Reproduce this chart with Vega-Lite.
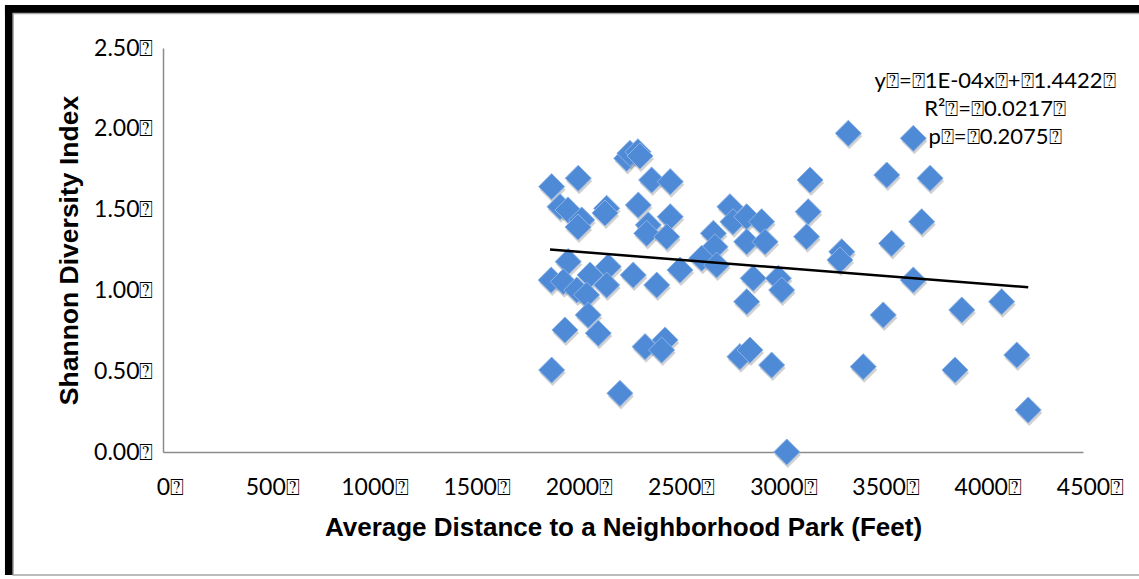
{
  "$schema": "https://vega.github.io/schema/vega-lite/v6.json",
  "autosize": {"type": "none"},
  "width": 920,
  "height": 404,
  "padding": {"left": 163, "top": 48, "right": 56, "bottom": 127},
  "background": "white",
  "config": {"view": {"stroke": null}, "font": "Lato"},
  "datasets": {
    "points": [
      {"distance": 1901, "shannon": 1.642},
      {"distance": 2031, "shannon": 1.694},
      {"distance": 1942, "shannon": 1.518},
      {"distance": 1981, "shannon": 1.498},
      {"distance": 2048, "shannon": 1.436},
      {"distance": 2030, "shannon": 1.392},
      {"distance": 2170, "shannon": 1.508},
      {"distance": 2162, "shannon": 1.479},
      {"distance": 2268, "shannon": 1.817},
      {"distance": 2284, "shannon": 1.848},
      {"distance": 2323, "shannon": 1.858},
      {"distance": 2333, "shannon": 1.832},
      {"distance": 2390, "shannon": 1.683},
      {"distance": 2481, "shannon": 1.673},
      {"distance": 2325, "shannon": 1.528},
      {"distance": 2374, "shannon": 1.405},
      {"distance": 2366, "shannon": 1.353},
      {"distance": 2481, "shannon": 1.456},
      {"distance": 2464, "shannon": 1.332},
      {"distance": 2773, "shannon": 1.518},
      {"distance": 2788, "shannon": 1.425},
      {"distance": 2855, "shannon": 1.456},
      {"distance": 2928, "shannon": 1.425},
      {"distance": 2855, "shannon": 1.301},
      {"distance": 2945, "shannon": 1.301},
      {"distance": 2692, "shannon": 1.353},
      {"distance": 2700, "shannon": 1.270},
      {"distance": 2635, "shannon": 1.199},
      {"distance": 2708, "shannon": 1.157},
      {"distance": 2529, "shannon": 1.126},
      {"distance": 2887, "shannon": 1.075},
      {"distance": 3010, "shannon": 1.075},
      {"distance": 3026, "shannon": 1.002},
      {"distance": 2855, "shannon": 0.930},
      {"distance": 3156, "shannon": 1.487},
      {"distance": 3148, "shannon": 1.332},
      {"distance": 3165, "shannon": 1.683},
      {"distance": 3320, "shannon": 1.239},
      {"distance": 3311, "shannon": 1.188},
      {"distance": 3352, "shannon": 1.972},
      {"distance": 3670, "shannon": 1.941},
      {"distance": 3540, "shannon": 1.714},
      {"distance": 3752, "shannon": 1.694},
      {"distance": 3711, "shannon": 1.425},
      {"distance": 3564, "shannon": 1.291},
      {"distance": 3670, "shannon": 1.064},
      {"distance": 3523, "shannon": 0.848},
      {"distance": 3907, "shannon": 0.879},
      {"distance": 4102, "shannon": 0.930},
      {"distance": 4176, "shannon": 0.600},
      {"distance": 3425, "shannon": 0.528},
      {"distance": 3874, "shannon": 0.507},
      {"distance": 4232, "shannon": 0.260},
      {"distance": 3051, "shannon": 0.0},
      {"distance": 2977, "shannon": 0.538},
      {"distance": 2822, "shannon": 0.590},
      {"distance": 2871, "shannon": 0.631},
      {"distance": 1982, "shannon": 1.178},
      {"distance": 1899, "shannon": 1.064},
      {"distance": 1958, "shannon": 1.054},
      {"distance": 2089, "shannon": 1.095},
      {"distance": 2178, "shannon": 1.147},
      {"distance": 2170, "shannon": 1.033},
      {"distance": 2024, "shannon": 1.002},
      {"distance": 2072, "shannon": 0.972},
      {"distance": 2300, "shannon": 1.095},
      {"distance": 2415, "shannon": 1.033},
      {"distance": 2080, "shannon": 0.848},
      {"distance": 1966, "shannon": 0.755},
      {"distance": 2129, "shannon": 0.735},
      {"distance": 2358, "shannon": 0.652},
      {"distance": 2456, "shannon": 0.693},
      {"distance": 2439, "shannon": 0.631},
      {"distance": 1901, "shannon": 0.507},
      {"distance": 2235, "shannon": 0.363}
    ],
    "trend": [
      {"distance": 1893, "shannon": 1.253},
      {"distance": 4232, "shannon": 1.019}
    ]
  },
  "layer": [
    {
      "data": {"name": "points"},
      "mark": {"type": "point", "shape": "diamond", "filled": true, "size": 680, "color": "#000000", "opacity": 0.18, "xOffset": 1, "yOffset": 3},
      "encoding": {
        "x": {
          "field": "distance", "type": "quantitative",
          "scale": {"domain": [0, 4500], "nice": false, "zero": false},
          "axis": {
            "values": [0, 500, 1000, 1500, 2000, 2500, 3000, 3500, 4000, 4500],
            "labelExpr": "datum.value + '⍰'",
            "title": "Average Distance to a Neighborhood Park (Feet)",
            "grid": false, "ticks": false,
            "domainColor": "#8c8c8c", "domainWidth": 1.5,
            "labelFont": "Lato", "labelFontSize": 23, "labelColor": "#000000",
            "labelPadding": 24, "labelOffset": 7, "labelFlush": false, "labelOverlap": false,
            "titleFont": "Liberation Sans", "titleFontSize": 26, "titleFontWeight": "bold", "titleColor": "#000000",
            "titlePadding": 15
          }
        },
        "y": {
          "field": "shannon", "type": "quantitative",
          "scale": {"domain": [0, 2.5], "nice": false, "zero": false},
          "axis": {
            "values": [0, 0.5, 1, 1.5, 2, 2.5],
            "labelExpr": "format(datum.value, '.2f') + '⍰'",
            "title": "Shannon Diversity Index",
            "grid": false, "ticks": false,
            "domainColor": "#8c8c8c", "domainWidth": 1.5,
            "labelFont": "Lato", "labelFontSize": 23, "labelColor": "#000000",
            "labelPadding": 10, "labelFlush": false, "labelOverlap": false,
            "titleFont": "Liberation Sans", "titleFontSize": 26.5, "titleFontWeight": "bold", "titleColor": "#000000",
            "titlePadding": 10
          }
        }
      }
    },
    {
      "data": {"name": "points"},
      "mark": {"type": "point", "shape": "diamond", "filled": true, "size": 680, "fill": "#4f8ad6", "stroke": "#8db3e6", "strokeWidth": 1, "opacity": 1},
      "encoding": {
        "x": {"field": "distance", "type": "quantitative", "scale": {"domain": [0, 4500], "nice": false, "zero": false}},
        "y": {"field": "shannon", "type": "quantitative", "scale": {"domain": [0, 2.5], "nice": false, "zero": false}}
      }
    },
    {
      "data": {"name": "trend"},
      "mark": {"type": "line", "color": "#000000", "strokeWidth": 2.5},
      "encoding": {
        "x": {"field": "distance", "type": "quantitative", "scale": {"domain": [0, 4500], "nice": false, "zero": false}},
        "y": {"field": "shannon", "type": "quantitative", "scale": {"domain": [0, 2.5], "nice": false, "zero": false}}
      }
    },
    {
      "data": {"values": [{}]},
      "mark": {"type": "rect", "color": "black", "clip": false},
      "encoding": {
        "x": {"datum": -773, "type": "quantitative", "scale": {"domain": [0, 4500], "nice": false, "zero": false}},
        "x2": {"datum": 4810},
        "y": {"datum": 2.766, "type": "quantitative", "scale": {"domain": [0, 2.5], "nice": false, "zero": false}},
        "y2": {"datum": 2.7166}
      }
    },
    {
      "data": {"values": [{}]},
      "mark": {"type": "rect", "color": "black", "clip": false},
      "encoding": {
        "x": {"datum": -773, "type": "quantitative", "scale": {"domain": [0, 4500], "nice": false, "zero": false}},
        "x2": {"datum": -734},
        "y": {"datum": 2.766, "type": "quantitative", "scale": {"domain": [0, 2.5], "nice": false, "zero": false}},
        "y2": {"datum": -0.761}
      }
    },
    {
      "data": {"values": [{}]},
      "mark": {"type": "rect", "fill": null, "filled": false, "stroke": "#a6a6a6", "strokeWidth": 1.5, "clip": false},
      "encoding": {
        "x": {"datum": -733, "type": "quantitative", "scale": {"domain": [0, 4500], "nice": false, "zero": false}},
        "x2": {"datum": 4810},
        "y": {"datum": 2.714, "type": "quantitative", "scale": {"domain": [0, 2.5], "nice": false, "zero": false}},
        "y2": {"datum": -0.761}
      }
    },
    {
      "data": {"values": [{}]},
      "mark": {"type": "text", "align": "center", "baseline": "alphabetic", "font": "Lato", "fontSize": 22, "lineHeight": 28, "color": "#000000", "clip": false},
      "encoding": {
        "x": {"datum": 4070, "type": "quantitative", "scale": {"domain": [0, 4500], "nice": false, "zero": false}},
        "y": {"datum": 2.252, "type": "quantitative", "scale": {"domain": [0, 2.5], "nice": false, "zero": false}},
        "text": {"value": ["y⍰=⍰1E-04x⍰+⍰1.4422⍰", "R²⍰=⍰0.0217⍰", "p⍰=⍰0.2075⍰"]}
      }
    }
  ]
}
